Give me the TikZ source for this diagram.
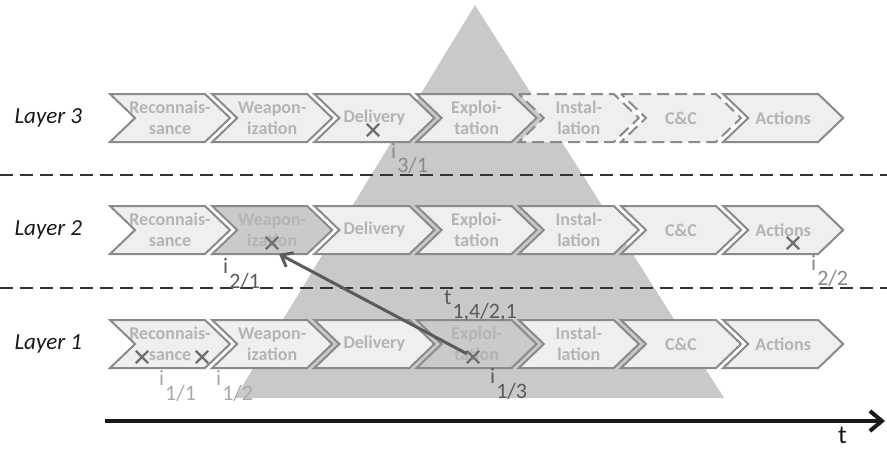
\documentclass[tikz,border=0pt]{standalone}
\usepackage{fontspec}
\setmainfont{Carlito}
\usepackage{tikz}
\usetikzlibrary{arrows.meta}
\usetikzlibrary{shapes.misc}

\definecolor{chevfill}{HTML}{EFEFEF}
\definecolor{hotfill}{HTML}{CACACA}
\definecolor{chevline}{HTML}{8A8A8A}
\definecolor{stagetxt}{HTML}{B4B4B4}
\definecolor{trifill}{HTML}{C9C9C9}
\definecolor{hitcol}{HTML}{707070}
\definecolor{idxlight}{HTML}{A8A8A8}
\definecolor{idxmid}{HTML}{8A8A8A}
\definecolor{idxdark}{HTML}{5A5A5A}

% stage names of the kill chain
\newcommand{\stagename}[1]{\ifcase#1 Reconnais-\\sance\or Weapon-\\ization\or Delivery\or Exploi-\\tation\or Instal-\\lation\or C\&C\or Actions\fi}
% one chevron: left x, centre y, style
\newcommand{\chevron}[3]{\draw[#3] (#1,#2-24) -- ++(95,0) -- ++(25,24) -- ++(-25,24) -- ++(-95,0) -- ++(25,-24) -- cycle;}

\tikzset{
  stage/.style={draw=chevline, line width=2pt, fill=chevfill, line join=miter},
  hotstage/.style={stage, fill=hotfill},
  openstage/.style={stage, dash pattern=on 12pt off 6pt},
  stagetext/.style={text=stagetxt, font=\bfseries\fontsize{18}{21}\selectfont, align=center, inner sep=0pt},
  layertext/.style={anchor=west, font=\itshape\fontsize{23}{23}\selectfont, text=black!90},
  hit/.style={cross out, draw=hitcol, line width=2.4pt, minimum size=10pt, inner sep=0pt},
  idx/.style={anchor=base west, inner sep=0pt, font=\fontsize{22}{22}\selectfont},
  sep/.style={draw=black!80, line width=2pt, dash pattern=on 13pt off 7pt},
}

\begin{document}
\begin{tikzpicture}[x=1pt,y=-1pt]
\useasboundingbox (0,0) rectangle (887,450);
% pyramid behind the chains
\fill[trifill] (475,5) -- (724,398) -- (235,398) -- cycle;
% layer separators
\coordinate (s1a) at (0,175);
\coordinate (s1b) at (887,175);
\coordinate (s2a) at (0,288);
\coordinate (s2b) at (887,288);
\draw[sep] (s1a) -- (s1b);
\draw[sep] (s2a) -- (s2b);
% layer names
\node[layertext] (lay3) at (11,118) {Layer 3};
\node[layertext] (lay2) at (11,230) {Layer 2};
\node[layertext] (lay1) at (11,344) {Layer 1};
% chevrons of each layer
\foreach \st [count=\k from 0] in {stage,stage,stage,stage,openstage,openstage,stage}{
  \pgfmathsetmacro\xs{110+102.2*\k}
  \chevron{\xs}{118}{\st}
  \node[stagetext] (Lc3s\k) at (\xs+60,118) {\stagename{\k}};
}
\foreach \st [count=\k from 0] in {stage,hotstage,stage,stage,stage,stage,stage}{
  \pgfmathsetmacro\xs{110+102.2*\k}
  \chevron{\xs}{230}{\st}
  \node[stagetext] (Lc2s\k) at (\xs+60,230) {\stagename{\k}};
}
\foreach \st [count=\k from 0] in {stage,stage,stage,hotstage,stage,stage,stage}{
  \pgfmathsetmacro\xs{110+102.2*\k}
  \chevron{\xs}{344}{\st}
  \node[stagetext] (Lc1s\k) at (\xs+60,344) {\stagename{\k}};
}
% hits
\node[hit] (x31) at (373,130) {};
\node[hit] (x21) at (272,243) {};
\node[hit] (x22) at (793,243) {};
\node[hit] (x11) at (142,357) {};
\node[hit] (x12) at (202,357) {};
\node[hit] (x13) at (473,357) {};
% hit labels
\node[idx, text=idxmid] (i31) at (391,158) {i\hspace{1pt}\raisebox{-14pt}{3/1}};
\node[idx, text=idxdark] (i21) at (223,273) {i\hspace{1pt}\raisebox{-15pt}{2/1}};
\node[idx, text=idxmid] (i22) at (811,270) {i\hspace{1pt}\raisebox{-15pt}{2/2}};
\node[idx, text=idxlight] (i11) at (159,385) {i\hspace{1pt}\raisebox{-15pt}{1/1}};
\node[idx, text=idxlight] (i12) at (216,385) {i\hspace{1pt}\raisebox{-15pt}{1/2}};
\node[idx, text=idxdark] (i13) at (490,383) {i\hspace{1pt}\raisebox{-15pt}{1/3}};
\node[idx, text=idxdark] (t142) at (444,304) {t\hspace{1pt}\raisebox{-14pt}{1,4/2,1}};
% transition between layers
\coordinate (tip21) at (279,254);
\draw[draw=idxdark, line width=3pt, -{Straight Barb[length=10pt,width=16pt]}] (x13) -- (tip21);
% time axis
\coordinate (t0) at (105,421);
\coordinate (t1) at (885,421);
\draw[line width=4pt, black!90, -{Straight Barb[length=12pt,width=20pt]}] (t0) -- (t1);
\node[anchor=base west, inner sep=0pt, font=\fontsize{26}{26}\selectfont, text=black!90] (tlab) at (838,443) {t};
\end{tikzpicture}
\end{document}
